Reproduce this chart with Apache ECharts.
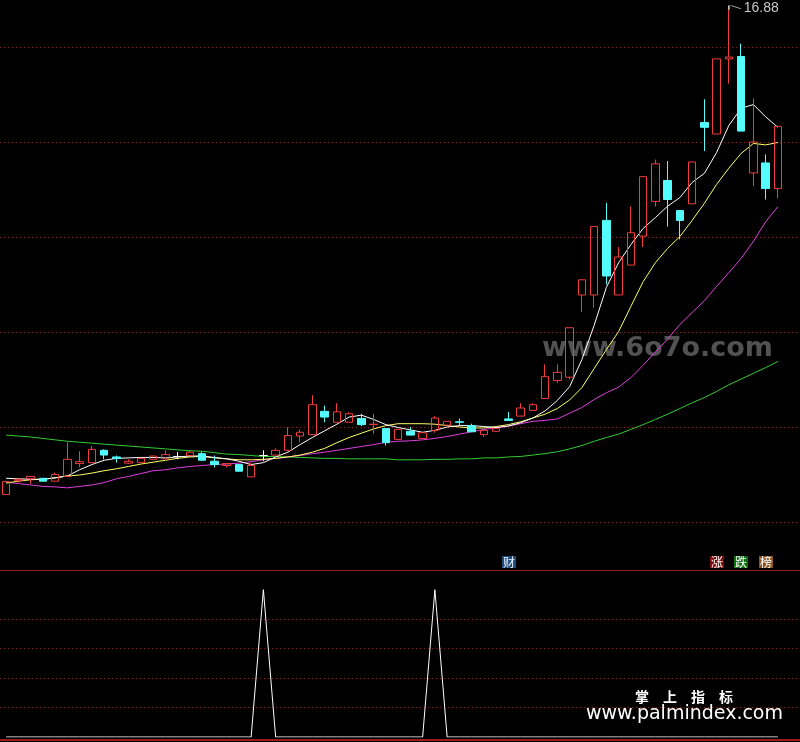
<!DOCTYPE html>
<html><head><meta charset="utf-8">
<script src="https://cdn.jsdelivr.net/npm/echarts@6/dist/echarts.min.js"></script>
<style>html,body{margin:0;padding:0;background:#000;}#c{width:800px;height:742px;}</style>
</head><body><div id="c"></div>
<script>
const categories = ['1','2','3','4','5','6','7','8','9','10','11','12','13','14','15','16','17','18','19','20','21','22','23','24','25','26','27','28','29','30','31','32','33','34','35','36','37','38','39','40','41','42','43','44','45','46','47','48','49','50','51','52','53','54','55','56','57','58','59','60','61','62','63','64'];
const opens = [6.59,6.88,6.92,6.93,6.87,6.97,7.24,7.26,7.52,7.38, 7.25,7.26,7.33,7.34,7.39,7.41,7.45,7.29,7.20,7.22, 6.96,7.41,7.42,7.52,7.82,7.85,8.34,8.11,8.11,8.19, 8.06,7.98,7.75,7.92,7.77,7.94,8.05,8.12,8.04,7.85, 7.92,8.18,8.24,8.36,8.61,8.99,9.06,10.79,10.79,12.36, 10.79,11.42,12.03,12.76,13.20,12.57,12.71,14.42,14.18,15.76, 15.81,13.36,13.57,13.03];
const closes = [6.86,6.91,6.97,6.87,7.01,7.33,7.28,7.54,7.42,7.35, 7.29,7.35,7.40,7.43,7.39,7.48,7.31,7.22,7.24,7.08, 7.20,7.41,7.52,7.83,7.90,8.48,8.22,8.33,8.29,8.06, 8.07,7.68,7.96,7.84,7.89,8.20,8.13,8.11,7.91,7.94, 7.98,8.15,8.41,8.48,9.07,9.16,10.10,11.11,12.23,11.19, 11.59,12.10,13.28,13.55,12.80,12.36,13.59,14.32,15.76,15.80, 14.24,14.01,13.03,14.34];
const lows = [6.59,6.84,6.81,6.87,6.87,6.97,7.16,7.26,7.33,7.26, 7.24,7.26,7.33,7.34,7.33,7.41,7.31,7.16,7.16,7.07, 6.96,7.29,7.42,7.50,7.69,7.85,8.11,8.11,8.11,8.03, 7.87,7.62,7.75,7.84,7.77,7.89,8.05,8.03,7.91,7.80, 7.92,8.15,8.24,8.36,8.61,8.94,9.01,10.43,10.52,11.01, 10.79,11.42,11.80,12.65,12.23,11.96,12.71,13.82,14.18,15.24, 14.24,13.08,12.80,12.82];
const highs = [6.88,6.93,6.97,6.93,7.05,7.69,7.50,7.61,7.54,7.41, 7.33,7.35,7.40,7.52,7.48,7.52,7.49,7.41,7.24,7.22, 7.26,7.52,7.56,8.01,7.96,8.68,8.46,8.51,8.32,8.29, 8.29,7.98,7.96,8.01,7.89,8.24,8.13,8.19,8.08,7.94, 7.98,8.33,8.51,8.51,9.33,9.33,10.10,11.11,12.23,12.73, 11.80,12.65,13.28,13.64,13.61,12.57,13.59,14.91,15.76,16.88, 16.08,14.93,13.75,14.34];
const ma5 = [6.93,6.92,6.91,6.91,6.94,6.98,7.11,7.22,7.31,7.35, 7.36,7.37,7.37,7.36,7.38,7.40,7.40,7.37,7.34,7.29, 7.22,7.26,7.38,7.48,7.64,7.79,7.93,8.07,8.22,8.26, 8.17,8.06,8.00,7.95,7.90,7.94,8.01,8.04,8.04,8.02, 8.00,8.03,8.10,8.20,8.35,8.57,8.86,9.43,10.15,10.95, 11.47,11.85,12.19,12.42,12.66,12.84,13.16,13.35,13.79,14.36, 14.72,14.80,14.54,14.32];
const ma10 = [6.83,6.87,6.90,6.91,6.94,6.98,7.00,7.04,7.09,7.13, 7.18,7.23,7.27,7.31,7.35,7.38,7.39,7.36,7.34,7.32, 7.32,7.33,7.35,7.38,7.42,7.48,7.56,7.68,7.79,7.88, 7.97,8.04,8.08,8.08,8.08,8.07,8.04,8.01,7.99,7.99, 8.02,8.06,8.12,8.20,8.28,8.40,8.58,8.84,9.24,9.64, 10.02,10.55,11.07,11.47,11.77,12.02,12.36,12.72,13.12,13.46, 13.77,13.98,13.95,14.00];
const ma20 = [6.85,6.82,6.79,6.76,6.75,6.73,6.76,6.79,6.84,6.92, 6.97,7.03,7.09,7.11,7.15,7.18,7.20,7.22,7.23,7.25, 7.28,7.32,7.35,7.38,7.41,7.45,7.48,7.52,7.56,7.60, 7.64,7.69,7.71,7.72,7.74,7.77,7.81,7.86,7.91,7.96, 7.99,8.03,8.08,8.13,8.15,8.18,8.30,8.42,8.59,8.73, 8.85,9.05,9.31,9.59,9.86,10.17,10.42,10.67,10.97,11.26, 11.56,11.92,12.33,12.65];
const ma60 = [7.84,7.82,7.80,7.77,7.74,7.71,7.69,7.67,7.65,7.63, 7.61,7.59,7.57,7.55,7.53,7.51,7.50,7.47,7.44,7.43, 7.41,7.39,7.39,7.38,7.37,7.36,7.35,7.35,7.34,7.34, 7.34,7.34,7.32,7.32,7.32,7.33,7.33,7.34,7.34,7.36, 7.36,7.38,7.39,7.42,7.45,7.49,7.55,7.62,7.71,7.79, 7.86,7.96,8.06,8.17,8.28,8.40,8.52,8.63,8.76,8.90, 9.02,9.14,9.26,9.39];
const signal = [0,0,0,0,0,0,0,0,0,0, 0,0,0,0,0,0,0,0,0,0, 0,100,0,0,0,0,0,0,0,0, 0,0,0,0,0,100,0,0,0,0, 0,0,0,0,0,0,0,0,0,0, 0,0,0,0,0,0,0,0,0,0, 0,0,0,0];
const mainGridLevels = [6,8,10,12,14,16];
const signalGridLevels = [20,40,60,80];

const MAIN_MIN = 5, MAIN_MAX = 17, SIG_MIN = 0, SIG_MAX = 112, SIG_STEP = 20;
const RED = '#f03c3c', CYAN = '#54fcfc', GRIDRED = '#8c2020', SEP = '#9a1c1c';
const NONE = 'rgba(0,0,0,0)';

const mainTicks = []; for (let v = MAIN_MIN; v <= MAIN_MAX; v += 1) mainTicks.push(v);
const mainColors = mainTicks.map(v => mainGridLevels.includes(v) ? GRIDRED : NONE);
const sigTicks = []; for (let v = SIG_MIN; v <= SIG_MAX; v += SIG_STEP) sigTicks.push(v);
if (sigTicks[sigTicks.length - 1] !== SIG_MAX) sigTicks.push(SIG_MAX);
const sigColors = sigTicks.map(v => signalGridLevels.includes(v) ? GRIDRED : NONE);

const WHITE_STYLE = {color: '#ffffff', color0: '#ffffff', borderColor: '#ffffff', borderColor0: '#ffffff'};
const candleData = categories.map((c, i) => {
  const item = {value: [opens[i], closes[i], lows[i], highs[i]]};
  if (opens[i] === closes[i]) item.itemStyle = WHITE_STYLE;
  return item;
});
const maxHigh = Math.max.apply(null, highs);
const maxIdx = highs.indexOf(maxHigh);

const hidden = {show: false};
const chart = echarts.init(document.getElementById('c'), null, {renderer: 'canvas'});
chart.setOption({
  backgroundColor: '#000000',
  animation: false,
  grid: [
    {left: 0, right: 0, top: 0, height: 570},
    {left: 0, width: 784, top: 0, height: 570},
    {left: 0, right: 0, top: 572, height: 165},
    {left: 0, width: 784, top: 572, height: 165}
  ],
  xAxis: [
    {gridIndex: 0, type: 'value', min: 0, max: 1, axisLine: {show: true, onZero: false, lineStyle: {color: SEP, width: 1}}, axisTick: hidden, axisLabel: hidden, splitLine: hidden},
    {gridIndex: 1, type: 'category', data: categories, boundaryGap: true, show: false},
    {gridIndex: 2, type: 'value', min: 0, max: 1, offset: 3, axisLine: {show: true, onZero: false, lineStyle: {color: SEP, width: 2}}, axisTick: hidden, axisLabel: hidden, splitLine: hidden},
    {gridIndex: 3, type: 'category', data: categories, boundaryGap: true, show: false}
  ],
  yAxis: [
    {gridIndex: 0, type: 'value', min: MAIN_MIN, max: MAIN_MAX, interval: 1, axisLine: hidden, axisTick: hidden, axisLabel: hidden,
     splitLine: {show: true, lineStyle: {color: mainColors, width: 1, type: [1, 3]}}},
    {gridIndex: 1, type: 'value', min: MAIN_MIN, max: MAIN_MAX, show: false, splitLine: hidden},
    {gridIndex: 2, type: 'value', min: SIG_MIN, max: SIG_MAX, interval: SIG_STEP, axisLine: hidden, axisTick: hidden, axisLabel: hidden,
     splitLine: {show: true, lineStyle: {color: sigColors, width: 1, type: [1, 3]}}},
    {gridIndex: 3, type: 'value', min: SIG_MIN, max: SIG_MAX, show: false, splitLine: hidden}
  ],
  series: [
    {type: 'line', name: 'MA60', xAxisIndex: 1, yAxisIndex: 1, data: ma60, symbol: 'none', z: 2, lineStyle: {color: '#33cc33', width: 1}},
    {type: 'line', name: 'MA20', xAxisIndex: 1, yAxisIndex: 1, data: ma20, symbol: 'none', z: 2, lineStyle: {color: '#e040e0', width: 1}},
    {type: 'line', name: 'MA10', xAxisIndex: 1, yAxisIndex: 1, data: ma10, symbol: 'none', z: 2, lineStyle: {color: '#ffff66', width: 1}},
    {type: 'line', name: 'MA5', xAxisIndex: 1, yAxisIndex: 1, data: ma5, symbol: 'none', z: 2, lineStyle: {color: '#ffffff', width: 1}},
    {type: 'candlestick', name: 'K', xAxisIndex: 1, yAxisIndex: 1, data: candleData, barWidth: 8, z: 3,
     itemStyle: {color: NONE, color0: CYAN, borderColor: RED, borderColor0: CYAN, borderColorDoji: '#ffffff', borderWidth: 1},
     markPoint: {
       symbol: 'path://M0,4L0,0L3,0L12,3', symbolSize: [12, 4], symbolOffset: [6, 2], silent: true,
       itemStyle: {color: NONE, borderColor: '#bbbbbb', borderWidth: 1},
       label: {show: true, position: 'right', distance: 2, color: '#c8c8c8', fontSize: 14, fontFamily: 'Liberation Sans', formatter: String(maxHigh.toFixed(2))},
       data: [{coord: [categories[maxIdx], maxHigh], value: maxHigh}]
     }},
    {type: 'line', name: 'signal', xAxisIndex: 3, yAxisIndex: 3, data: signal, symbol: 'none', z: 2, lineStyle: {color: '#ffffff', width: 1}}
  ],
  graphic: [
    {type: 'text', left: 542, top: 335, z: 0, silent: true, style: {text: 'www.6o7o.com', fill: '#525252', font: 'bold 27px "DejaVu Sans"'}},
    {type: 'text', left: 635, top: 690, z: 10, silent: true, style: {text: '掌　上　指　标', fill: '#ffffff', font: 'bold 14px "Noto Sans CJK SC"'}},
    {type: 'text', left: 586, top: 705, z: 10, silent: true, style: {text: 'www.palmindex.com', fill: '#ffffff', font: '19px "DejaVu Sans"'}},
    {type: 'text', left: 502, top: 556, z: 10, silent: true, style: {text: '财', fill: '#e8f0ff', font: '12px "Noto Sans CJK SC"', backgroundColor: '#1f4d7a', padding: [0, 1]}},
    {type: 'text', left: 710, top: 556, z: 10, silent: true, style: {text: '涨', fill: '#ffffff', font: '12px "Noto Sans CJK SC"', backgroundColor: '#7a0c0c', padding: [0, 1]}},
    {type: 'text', left: 734, top: 556, z: 10, silent: true, style: {text: '跌', fill: '#ffffff', font: '12px "Noto Sans CJK SC"', backgroundColor: '#0f6e12', padding: [0, 1]}},
    {type: 'text', left: 759, top: 556, z: 10, silent: true, style: {text: '榜', fill: '#ffffff', font: '12px "Noto Sans CJK SC"', backgroundColor: '#8a5522', padding: [0, 1]}}
  ]
});
</script></body></html>
